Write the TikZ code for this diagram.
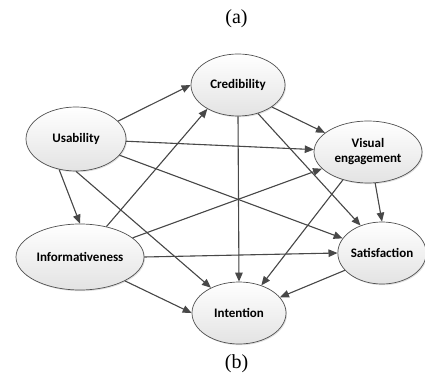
\documentclass[tikz,border=0pt]{standalone}
\usepackage{fontspec}
\setmainfont{Liberation Serif}
\newfontfamily\calibri{Carlito}
\usetikzlibrary{shapes.geometric, shadows, arrows.meta, positioning}

\definecolor{linkgray}{HTML}{484848}
\definecolor{rimgray}{HTML}{505050}

\begin{document}
\begin{tikzpicture}[x=1pt, y=-1pt, >={Triangle[length=9pt, width=7.5pt]},
    factor/.style = {ellipse, draw=rimgray, line width=0.7pt, top color=white, bottom color=gray!22,
        drop shadow={opacity=0.25, shadow xshift=1pt, shadow yshift=-1.2pt},
        inner sep=0pt, align=center, font=\calibri\bfseries\fontsize{13}{15}\selectfont},
    link/.style = {->, draw=linkgray, fill=linkgray, line width=1.1pt},
    caption/.style = {font=\fontsize{20}{22}\selectfont}]

    \useasboundingbox (0,0) rectangle (425,379);

    \node[caption] (capa) at (236.5,19) {(a)};
    \node[caption] (capb) at (236.5,364) {(b)};

    \node[factor, minimum width=94pt, minimum height=62pt] (cred) at (238,85) {Credibility};
    \node[factor, minimum width=100pt, minimum height=64pt] (usab) at (76,139) {Usability};
    \node[factor, minimum width=108pt, minimum height=62pt] (visu) at (368,152) {Visual\\engagement};
    \node[factor, minimum width=128pt, minimum height=66pt] (info) at (80,257) {Informativeness};
    \node[factor, minimum width=88pt, minimum height=62pt] (sati) at (382,253) {Satisfaction};
    \node[factor, minimum width=94pt, minimum height=62pt] (inte) at (239,313) {Intention};

    % from usability
    \draw[link] (usab.23) -- (cred.west);
    \draw[link] (usab) -- (visu);
    \draw[link] (usab) -- (sati);
    \draw[link] (usab.241) -- (info.north);
    \draw[link] (usab.south) -- (inte.138);

    % from informativeness
    \draw[link] (info.49) -- (cred.218);
    \draw[link] (info.20) -- (visu.200);
    \draw[link] (info.east) -- (sati.west);
    \draw[link] (info.332) -- (inte.west);

    % from credibility
    \draw[link] (cred.327) -- (visu.156);
    \draw[link] (cred.south) -- (inte.north);
    \draw[link] (cred.305) -- (sati.128);

    % the rest
    \draw[link] (visu.228) -- (inte.51);
    \draw[link] (visu.283) -- (sati.north);
    \draw[link] (sati.205) -- (inte.21);
\end{tikzpicture}
\end{document}
